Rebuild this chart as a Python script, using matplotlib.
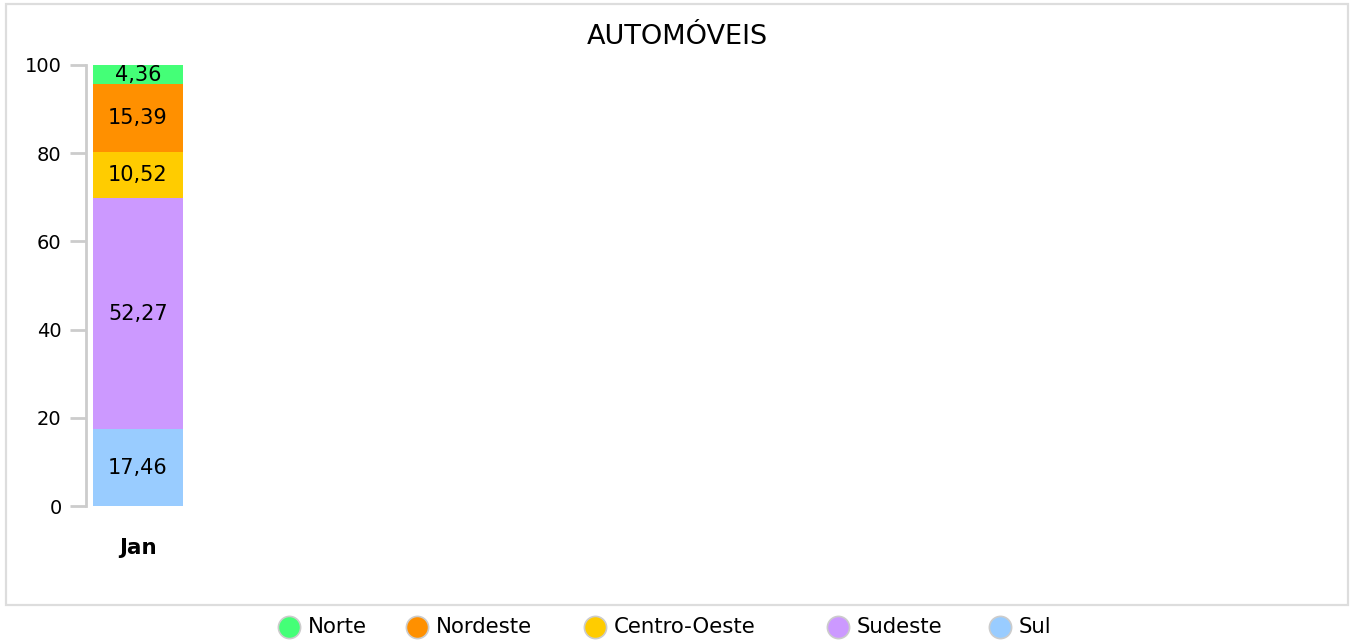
import matplotlib
matplotlib.use("Agg")
import matplotlib.pyplot as plt
from matplotlib.patches import Rectangle
from matplotlib.lines import Line2D

categories = ["Jan"]
series_names = ["Sul", "Sudeste", "Centro-Oeste", "Nordeste", "Norte"]
series_values = {
    "Sul": [17.46],
    "Sudeste": [52.27],
    "Centro-Oeste": [10.52],
    "Nordeste": [15.39],
    "Norte": [4.36],
}
colors = {
    "Norte": "#44ff77",
    "Nordeste": "#ff9000",
    "Centro-Oeste": "#ffcc00",
    "Sudeste": "#cc99ff",
    "Sul": "#99ccff",
}
legend_order = ["Norte", "Nordeste", "Centro-Oeste", "Sudeste", "Sul"]
yticks = [0, 20, 40, 60, 80, 100]
title = "AUTOMÓVEIS"

plt.rcParams['font.family'] = ['DejaVu Sans']
W, H = 1352, 644
fig = plt.figure(figsize=(W / 100, H / 100), dpi=100)

def fx(px):
    return px / W

def fy(py):
    return 1 - py / H

# outer frame
fig.patches.append(Rectangle((fx(6), fy(605)), fx(1348) - fx(6), fy(4) - fy(605),
                             transform=fig.transFigure, fill=False,
                             edgecolor="#dddddd", linewidth=1.6))

ax = fig.add_axes([fx(86), fy(506), fx(1340) - fx(86), fy(65) - fy(506)])
bar_w = 0.66
unit = 90 / bar_w
ax.set_xlim(-(138 - 86) / unit, (1340 - 138) / unit)
ax.set_ylim(0, 100)

x = list(range(len(categories)))
bottom = [0.0] * len(categories)
for name in series_names:
    vals = series_values[name]
    ax.bar(x, vals, width=bar_w, bottom=bottom, color=colors[name], linewidth=0)
    for xi, v, b in zip(x, vals, bottom):
        ax.text(xi, b + v / 2, f"{v:.2f}".replace(".", ","), ha="center", va="center",
                fontsize=15, color="black")
    bottom = [b + v for b, v in zip(bottom, vals)]

for s in ["top", "right", "bottom"]:
    ax.spines[s].set_visible(False)
ax.spines["left"].set_color("#cccccc")
ax.spines["left"].set_linewidth(2)
ax.set_yticks(yticks)
ax.set_yticklabels([str(t) for t in yticks])
ax.tick_params(axis="y", length=11.5, width=2, color="#cccccc", pad=6,
               labelsize=14, labelcolor="black")
ax.set_xticks(x)
ax.set_xticklabels(categories, fontweight="bold")
ax.tick_params(axis="x", length=0, pad=23, labelsize=15.5)

fig.text(fx(677), fy(37), title, ha="center", va="center", fontsize=19.5, color="black")

# legend
leg_pos = {"Norte": 289, "Nordeste": 417, "Centro-Oeste": 595, "Sudeste": 838, "Sul": 1000}
for name in legend_order:
    cx = leg_pos[name]
    fig.add_artist(Line2D([fx(cx)], [fy(627)], transform=fig.transFigure, marker="o",
                          markersize=16, markerfacecolor=colors[name],
                          markeredgecolor="#cccccc", markeredgewidth=1.2, linestyle="none"))
    fig.text(fx(cx + 19), fy(627), name, ha="left", va="center", fontsize=15.3, color="black")

fig.savefig("out.png", dpi=100)
